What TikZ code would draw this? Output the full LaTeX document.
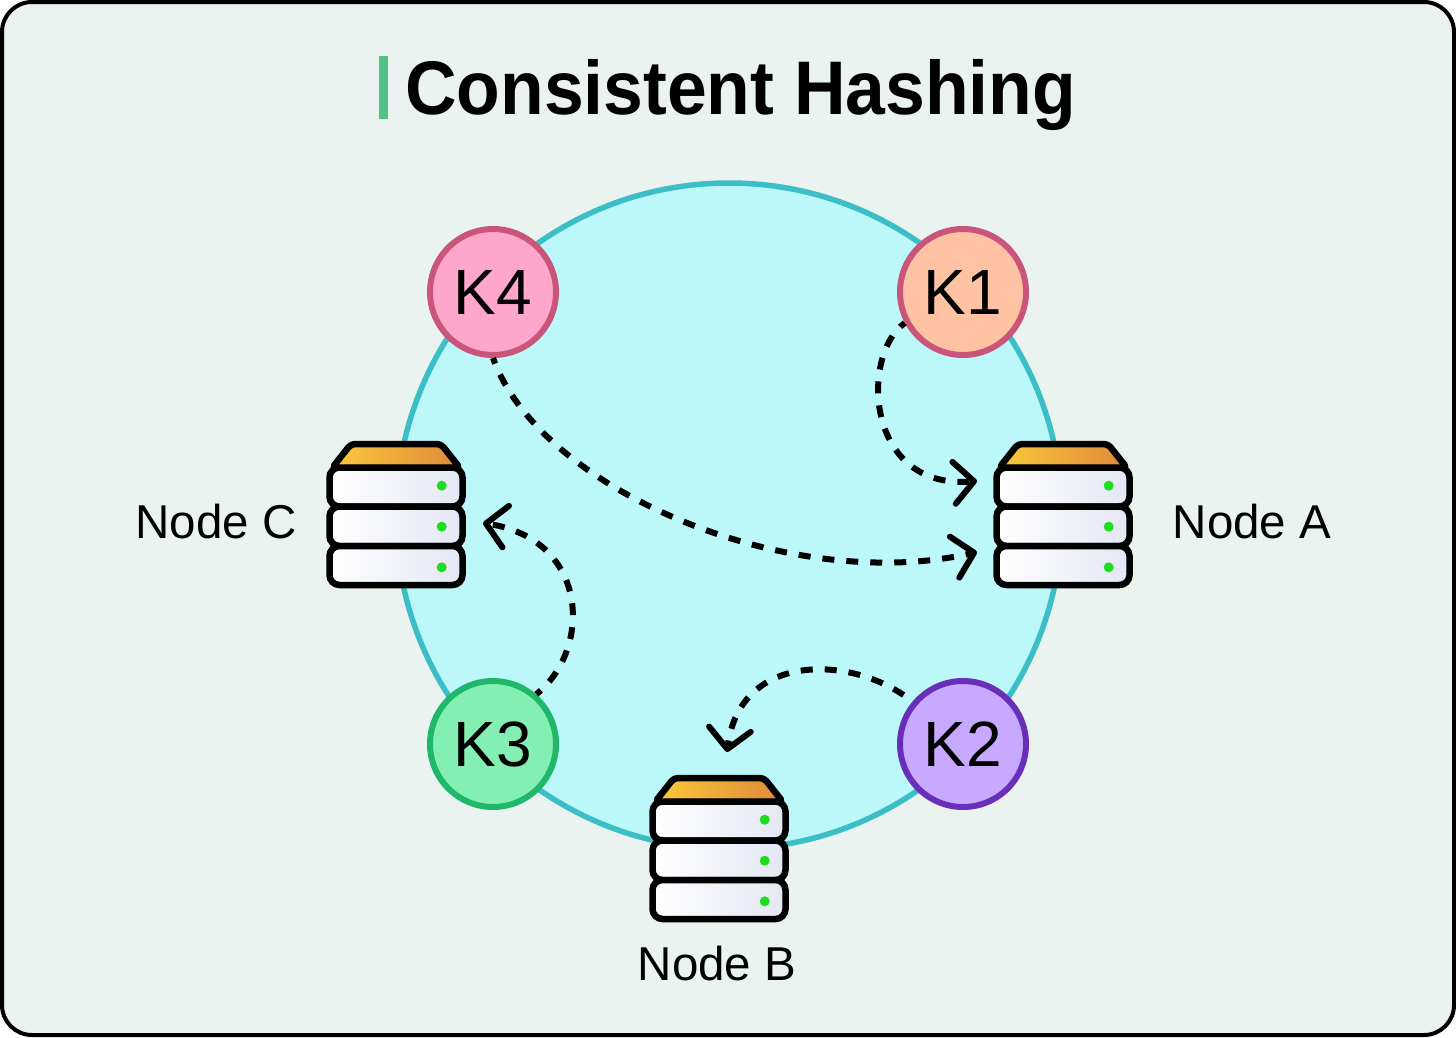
\documentclass[tikz,border=0pt]{standalone}
\usepackage{fontspec}
\setmainfont{Liberation Sans}
\newfontfamily\titlefont[FakeStretch=0.94]{Liberation Sans}
\usetikzlibrary{arrows.meta}
\definecolor{bgc}{HTML}{EAF3EF}
\definecolor{ringc}{HTML}{3BBEC6}
\definecolor{ringf}{HTML}{BCF7F9}
\definecolor{barc}{HTML}{55C088}
\definecolor{F1}{HTML}{FAC93B}
\definecolor{F2}{HTML}{DF8A38}
\definecolor{dotc}{HTML}{1EDC1E}
\definecolor{rowr}{HTML}{E4E7F4}
\definecolor{kia}{HTML}{FFC2A3}
\definecolor{kib}{HTML}{C7A9FF}
\definecolor{kic}{HTML}{83EFB2}
\definecolor{kid}{HTML}{FFA6CD}
\definecolor{kra}{HTML}{C9567A}
\definecolor{krb}{HTML}{6A2FB8}
\definecolor{krc}{HTML}{1FB86A}
\tikzset{
  keynode/.style={circle,line width=6pt,minimum size=126pt,inner sep=0pt,font=\fontsize{64}{64}\selectfont},
  nlabel/.style={font=\fontsize{47.5}{48}\selectfont,inner sep=0pt},
  link/.style={line width=6pt,dash pattern=on 12pt off 12pt,-{Straight Barb[length=20pt,width=42pt,line width=6pt,round]}},
  srow/.style={draw=black,line width=6.5pt,rounded corners=10pt,left color=white,right color=rowr},
  server/.pic={
    \draw[line width=6.5pt,line join=round,rounded corners=4pt,left color=F1,right color=F2] (-64,-46) -- (-45,-70) -- (45,-70) -- (64,-46) -- cycle;
    \draw[srow] (-66.5,-46.5) rectangle (66.5,-7.5);
    \draw[srow] (-66.5,-7.5) rectangle (66.5,32);
    \draw[srow] (-66.5,32) rectangle (66.5,71);
    \fill[dotc] (45.7,-28.3) circle (5);
    \fill[dotc] (45.7,12.7) circle (5);
    \fill[dotc] (45.7,53.3) circle (5);
  }
}
\begin{document}
\begin{tikzpicture}[x=1pt,y=-1pt]
\useasboundingbox (0,0) rectangle (1456,1037);
\draw[fill=bgc,draw=black,line width=4pt,rounded corners=30pt] (2,2) rectangle (1454,1035);
\fill[barc] (379,56) rectangle (388,119);
\node[anchor=base west,inner sep=0pt,font=\fontsize{76}{80}\selectfont\titlefont\bfseries] (title) at (405,114) {Consistent Hashing};
\draw[ringc,fill=ringf,line width=5.5pt] (729,516) circle (333);
\node[keynode,draw=kra,fill=kia] (k1) at (963,292) {K1};
\node[keynode,draw=krb,fill=kib] (k2) at (963,744) {K2};
\node[keynode,draw=krc,fill=kic] (k3) at (493,744) {K3};
\node[keynode,draw=kra,fill=kid] (k4) at (493,292) {K4};
\pic at (1063,514) {server};
\pic at (719,848) {server};
\pic at (396,514) {server};
\node[nlabel] (la) at (1252,522) {Node A};
\node[nlabel] (lb) at (717,964) {Node B};
\node[nlabel] (lc) at (216,522) {Node C};
\coordinate (a1) at (977,481);
\coordinate (a2) at (977,552);
\coordinate (b1) at (727,752);
\coordinate (c1) at (483,523);
\draw[link,dash phase=6pt] (k1.208) .. controls (860,355) and (865,490) .. (a1);
\draw[link,dash phase=6pt] (k4.270) .. controls (540,490) and (790,595) .. (a2);
\draw[link,dash phase=6pt] (k3.49) .. controls (592,650) and (590,540) .. (c1);
\draw[link,dash phase=13pt] (k2.140) .. controls (855,655) and (740,650) .. (b1);
\end{tikzpicture}
\end{document}
